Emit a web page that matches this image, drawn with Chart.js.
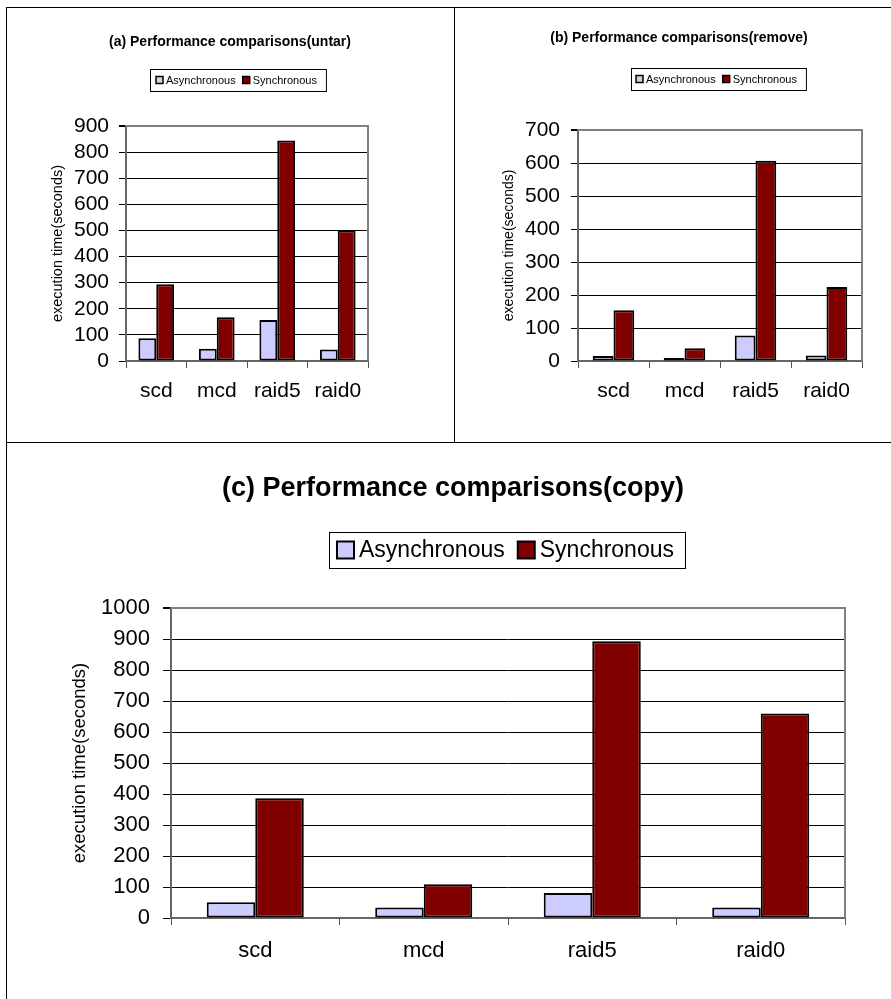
<!DOCTYPE html>
<html>
<head>
<meta charset="utf-8">
<script src="https://cdn.jsdelivr.net/npm/chart.js@4.4.1/dist/chart.umd.min.js"></script>
<style>
  body { margin: 0; background: #fff; }
  #page { position: relative; width: 891px; height: 999px; overflow: hidden; background: #fff; }
  canvas { position: absolute; }
  .rule { position: absolute; background: #000; }
</style>
</head>
<body>
<div id="page">
  <canvas id="chartA" width="455" height="442" style="left:0;top:0"></canvas>
  <canvas id="chartB" width="436" height="442" style="left:455px;top:0"></canvas>
  <canvas id="chartC" width="891" height="557" style="left:0;top:442px"></canvas>
  <div class="rule" style="left:6px;top:7px;width:885px;height:1px"></div>
  <div class="rule" style="left:6px;top:7px;width:1px;height:992px"></div>
  <div class="rule" style="left:6px;top:442px;width:885px;height:1px"></div>
  <div class="rule" style="left:454px;top:7px;width:1px;height:435px"></div>
</div>
<script>
// Data
const categories = ['scd', 'mcd', 'raid5', 'raid0'];
const seriesNames = ['Asynchronous', 'Synchronous'];
const seriesColors = ['#CCCCFF', '#800000'];

const untarAsync = [87, 47, 157, 44];
const untarSync = [294, 168, 844, 501];
const removeAsync = [15, 9, 77, 17];
const removeSync = [154, 39, 607, 224];
const copyAsync = [51, 34, 81, 34];
const copySync = [386, 109, 893, 660];

const untarMax = 900;
const removeMax = 700;
const copyMax = 1000;
const tickStep = 100;

const FONT = '"Liberation Sans", Arial, sans-serif';

// title, legend box and plot frame
const decorPlugin = {
  id: 'decor',
  beforeDatasetsDraw(chart) {
    const { ctx, chartArea: a } = chart;
    ctx.save();
    ctx.strokeStyle = '#808080';
    ctx.lineWidth = 2;
    ctx.beginPath();
    ctx.moveTo(a.left, a.top);
    ctx.lineTo(a.right, a.top);
    ctx.lineTo(a.right, a.bottom);
    ctx.stroke();
    ctx.restore();
  },
  afterDraw(chart, args, opts) {
    const { ctx } = chart;
    ctx.save();
    // title
    ctx.fillStyle = '#000';
    ctx.font = `bold ${opts.titleSize}px ${FONT}`;
    ctx.textAlign = 'center';
    ctx.textBaseline = 'middle';
    ctx.fillText(opts.title, opts.titleX, opts.titleY);

    // legend
    const lg = opts.legend;
    ctx.font = `${lg.size}px ${FONT}`;
    ctx.textAlign = 'left';
    let x = lg.x + lg.padL;
    const cy = lg.y + lg.h / 2;
    const items = chart.data.datasets.map(ds => {
      const w = lg.box + lg.gap + ctx.measureText(ds.label).width;
      return { ds, w };
    });
    const total = lg.padL + items.reduce((s, it) => s + it.w, 0) + lg.itemGap * (items.length - 1) + lg.padR;
    ctx.fillStyle = '#fff';
    ctx.fillRect(lg.x, lg.y, total, lg.h);
    ctx.strokeStyle = '#000';
    ctx.lineWidth = 1;
    ctx.strokeRect(lg.x + 0.5, lg.y + 0.5, total, lg.h);
    items.forEach(({ ds, w }) => {
      ctx.fillStyle = ds.backgroundColor;
      ctx.fillRect(x, cy - lg.box / 2, lg.box, lg.box);
      ctx.strokeStyle = '#000';
      ctx.lineWidth = lg.border;
      ctx.strokeRect(x, cy - lg.box / 2, lg.box, lg.box);
      ctx.fillStyle = '#000';
      ctx.fillText(ds.label, x + lg.box + lg.gap, cy + 1);
      x += w + lg.itemGap;
    });
    ctx.restore();
  }
};

function createChart(elementId, asyncData, syncData, yMax, cfg) {
  return new Chart(document.getElementById(elementId).getContext('2d'), {
    type: 'bar',
    data: {
      labels: categories,
      datasets: [asyncData, syncData].map((data, i) => ({
        label: seriesNames[i],
        data,
        backgroundColor: seriesColors[i],
        borderColor: '#000',
        borderWidth: 2,
        borderSkipped: false,
        categoryPercentage: cfg.catPct,
        barPercentage: 1.0,
      })),
    },
    options: {
      responsive: false,
      animation: false,
      layout: { padding: cfg.padding },
      plugins: {
        legend: { display: false },
        title: { display: false },
        tooltip: { enabled: false },
        decor: cfg.decor,
      },
      scales: {
        x: {
          afterFit: s => { s.height = cfg.xHeight; },
          grid: {
            offset: true,
            drawOnChartArea: false,
            drawTicks: true,
            tickLength: 7,
            color: '#555',
          },
          border: { display: true, color: '#666', width: 2 },
          ticks: {
            color: '#000',
            padding: cfg.xPad,
            font: { family: FONT, size: cfg.xSize },
          },
        },
        y: {
          min: 0,
          max: yMax,
          afterFit: s => { s.width = cfg.yWidth; },
          grid: {
            color: c => (c.tick && c.tick.value === yMax ? '#808080' : '#000'),
            lineWidth: c => (c.tick && c.tick.value === yMax ? 2 : 1),
            tickColor: '#000',
            tickLength: cfg.yTick,
          },
          border: { display: true, color: '#666', width: 2 },
          ticks: {
            stepSize: tickStep,
            autoSkip: false,
            callback: v => String(v),
            color: '#000',
            padding: cfg.yPad,
            font: { family: FONT, size: cfg.ySize },
          },
          title: {
            display: true,
            text: 'execution time(seconds)',
            color: '#000',
            padding: 0,
            font: { family: FONT, size: cfg.yTitleSize },
          },
        },
      },
    },
    plugins: [decorPlugin],
  });
}

createChart('chartA', untarAsync, untarSync, untarMax, {
  catPct: 0.59,
  padding: { left: 49, right: 87, top: 126, bottom: 31 },
  xHeight: 50, yWidth: 77,
  xPad: 11, xSize: 21,
  yTick: 7, yPad: 10, ySize: 21, yTitleSize: 14.5,
  decor: {
    title: '(a) Performance comparisons(untar)', titleSize: 14, titleX: 230, titleY: 42,
    legend: { x: 150, y: 69, h: 22, size: 11, box: 7, border: 1.5, gap: 3, itemGap: 7, padL: 6, padR: 9 },
  },
});

createChart('chartB', removeAsync, removeSync, removeMax, {
  catPct: 0.585,
  padding: { left: 46, right: 29, top: 130, bottom: 31 },
  xHeight: 50, yWidth: 77,
  xPad: 11, xSize: 21,
  yTick: 7, yPad: 11, ySize: 21, yTitleSize: 14,
  decor: {
    title: '(b) Performance comparisons(remove)', titleSize: 14, titleX: 224, titleY: 38,
    legend: { x: 176, y: 68, h: 22, size: 11, box: 7, border: 1.5, gap: 3, itemGap: 7, padL: 5, padR: 9 },
  },
});

createChart('chartC', copyAsync, copySync, copyMax, {
  catPct: 0.576,
  padding: { left: 69, right: 46, top: 166, bottom: 21 },
  xHeight: 60, yWidth: 102,
  xPad: 13, xSize: 22,
  yTick: 8, yPad: 13, ySize: 22, yTitleSize: 18.5,
  decor: {
    title: '(c) Performance comparisons(copy)', titleSize: 27, titleX: 453, titleY: 47,
    legend: { x: 329, y: 90, h: 36, size: 23, box: 17, border: 2, gap: 5, itemGap: 13, padL: 8, padR: 11 },
  },
});
</script>
</body>
</html>
